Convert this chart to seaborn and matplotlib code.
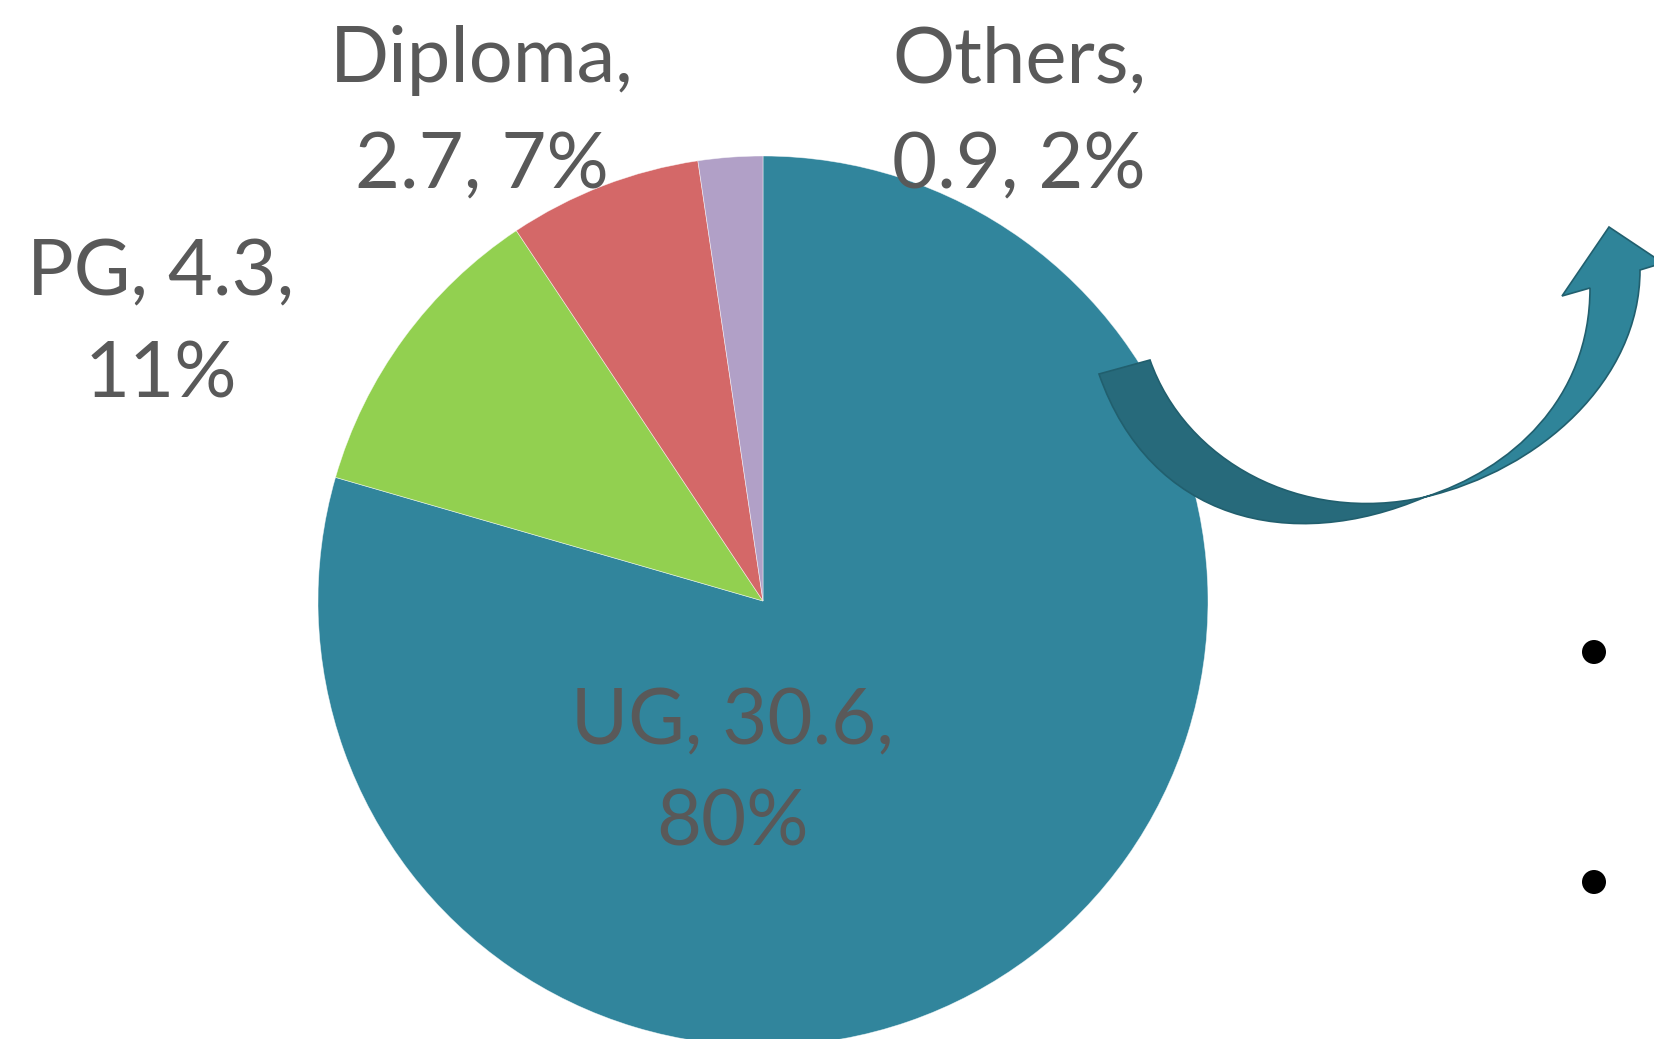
import matplotlib
matplotlib.use("Agg")
import matplotlib.pyplot as plt
import seaborn as sns
from matplotlib.path import Path
from matplotlib.patches import PathPatch, Circle

# ---- data ----
categories = ["UG", "PG", "Diploma", "Others"]
values = [30.6, 4.3, 2.7, 0.9]
percent_labels = ["80%", "11%", "7%", "2%"]

# ---- styling / layout ----
colors = ["#31859C", "#92D050", "#D46868", "#B1A0C7"]
line_break = ["value", "value", "name", "name"]          # where the label wraps
label_x = [732, 161, 482, 1019]                           # label centres (px)
label_baselines = [[744, 846], [295, 398], [82, 188], [82, 188]]
text_color = "#595959"

sns.set_theme(style="white")
plt.rcParams['font.family'] = ['Lato', 'DejaVu Sans']

W, H = 1654, 1039
fig = plt.figure(figsize=(W / 100, H / 100), dpi=100)
fig.patch.set_facecolor("white")

cx, cy, R = 763, 601, 445
ax = fig.add_axes([(cx - R) / W, 1 - (cy + R) / H, 2 * R / W, 2 * R / H])
ax.pie(values, colors=colors, startangle=90, counterclock=False, radius=1,
       wedgeprops=dict(edgecolor=(1, 1, 1, 0.6), linewidth=0.5))
ax.set_xlim(-1, 1)
ax.set_ylim(-1, 1)
ax.set_aspect("equal")
ax.axis("off")

# overlay axes in pixel units
ov = fig.add_axes([0, 0, 1, 1], zorder=5)
ov.set_xlim(0, W)
ov.set_ylim(H, 0)
ov.axis("off")
ov.patch.set_alpha(0)

# labels
for cat, val, pct, brk, x, bls in zip(categories, values, percent_labels,
                                        line_break, label_x, label_baselines):
    if brk == "name":
        lines = [f"{cat},", f"{val}, {pct}"]
    else:
        lines = [f"{cat}, {val},", pct]
    for ln, yb in zip(lines, bls):
        ov.text(x, yb, ln, ha="center", va="baseline", fontsize=56,
                color=text_color, zorder=10)

# curved arrow decoration
A, B, T = (1099, 374), (1150, 360), (1425, 497)
Rb, Lb = (1640, 270), (1590, 288)
dark_verts = [A, (1150, 520), (1290, 555), T, (1300, 525), (1185, 460), B, A]
dark_codes = [Path.MOVETO, Path.CURVE4, Path.CURVE4, Path.CURVE4,
              Path.CURVE4, Path.CURVE4, Path.CURVE4, Path.CLOSEPOLY]
light_verts = [T, (1540, 470), (1640, 380), Rb, (1663, 263), (1609, 227),
               (1562, 296), Lb, (1590, 400), (1510, 470), T, T]
light_codes = [Path.MOVETO, Path.CURVE4, Path.CURVE4, Path.CURVE4,
               Path.LINETO, Path.LINETO, Path.LINETO, Path.LINETO,
               Path.CURVE4, Path.CURVE4, Path.CURVE4, Path.CLOSEPOLY]
ov.add_patch(PathPatch(Path(dark_verts, dark_codes), facecolor="#276A7B",
                       edgecolor="#215F6E", lw=1.2, zorder=6))
ov.add_patch(PathPatch(Path(light_verts, light_codes), facecolor="#2F8499",
                       edgecolor="#215F6E", lw=1.2, zorder=7))

# bullets
for yb in (652, 882):
    ov.add_patch(Circle((1594, yb), 12, facecolor="black", edgecolor="none", zorder=8))

fig.savefig("out.png", dpi=100, facecolor="white")
